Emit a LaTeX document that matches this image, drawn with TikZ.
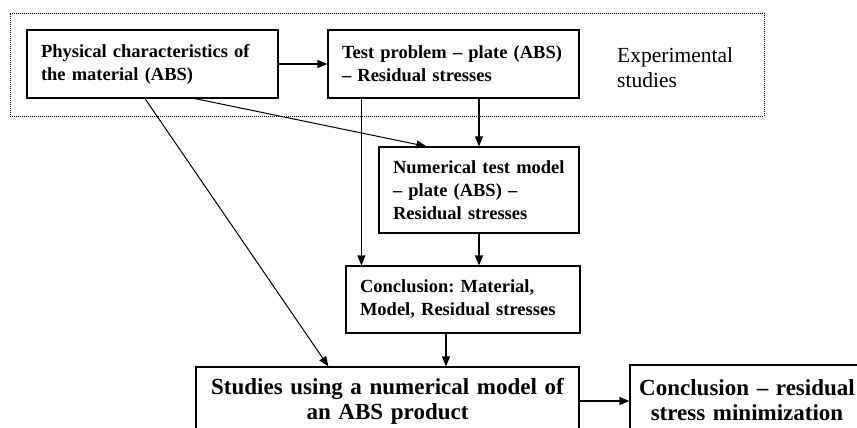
\documentclass[tikz,border=0pt]{standalone}
\usepackage{fontspec}
\setmainfont{Liberation Serif}
\usetikzlibrary{arrows.meta}
\frenchspacing
\tikzset{
	box/.style={draw, line width=1.2pt, inner xsep=14pt, align=left, font=\fontsize{18.5}{23}\selectfont\bfseries},
	bigbox/.style={box, inner xsep=5pt, align=center, font=\fontsize{23}{25}\selectfont\bfseries},
	arr/.style={-{Triangle[length=10pt,width=8pt]}, line width=1.2pt},
	slant/.style={arr, line width=1pt}
}
\begin{document}
\begin{tikzpicture}[x=1pt,y=-1pt]
			\useasboundingbox (0,0) rectangle (857,428);
			\clip (0,0) rectangle (857,428);
			\node[draw, line width=0.8pt, dash pattern=on 1pt off 1pt, minimum width=754pt, minimum height=103pt] (expbox) at (387,64.5) {};
			\node[box, text width=223pt, minimum height=68pt] (phys) at (152.5,64) {Physical characteristics of\\the material (ABS)};
			\node[box, text width=223pt, minimum height=68pt] (test) at (453.5,64) {Test problem -- plate (ABS)\\-- Residual stresses};
			\node[inner sep=0pt, anchor=west, align=left, font=\fontsize{21.5}{25}\selectfont] (exptext) at (617,68) {Experimental\\studies};
			\node[box, text width=172pt, minimum height=86pt] (num) at (479,190) {Numerical test model\\-- plate (ABS) --\\Residual stresses};
			\node[box, text width=206pt, minimum height=67pt] (concl) at (463,299.5) {Conclusion: Material,\\Model, Residual stresses};
			\node[bigbox, text width=373pt, minimum height=68pt] (study) at (387.5,401) {Studies using a numerical model of\\an ABS product};
			\node[bigbox, text width=224pt, minimum height=70pt] (result) at (747,400) {Conclusion~-- residual\\stress minimization};
			\draw[arr] (phys) -- (test);
			\draw[arr] ([xshift=34pt]test.south west) -- ([xshift=34pt]test.south west |- concl.north);
			\draw[arr] (test.south -| num.north) -- (num.north);
			\draw[arr] (num.south) -- (num.south |- concl.north);
			\draw[arr] ([xshift=-17pt]concl.south) -- ([xshift=-17pt]concl.south |- study.north);
			\draw[slant] ([xshift=42.5pt]phys.south) -- ([xshift=48pt]num.north west);
			\draw[slant] ([xshift=-7.5pt]phys.south) -- ([xshift=133pt]study.north west);
			\draw[arr] (study.east) -- (study.east -| result.west);
		\end{tikzpicture}
\end{document}
